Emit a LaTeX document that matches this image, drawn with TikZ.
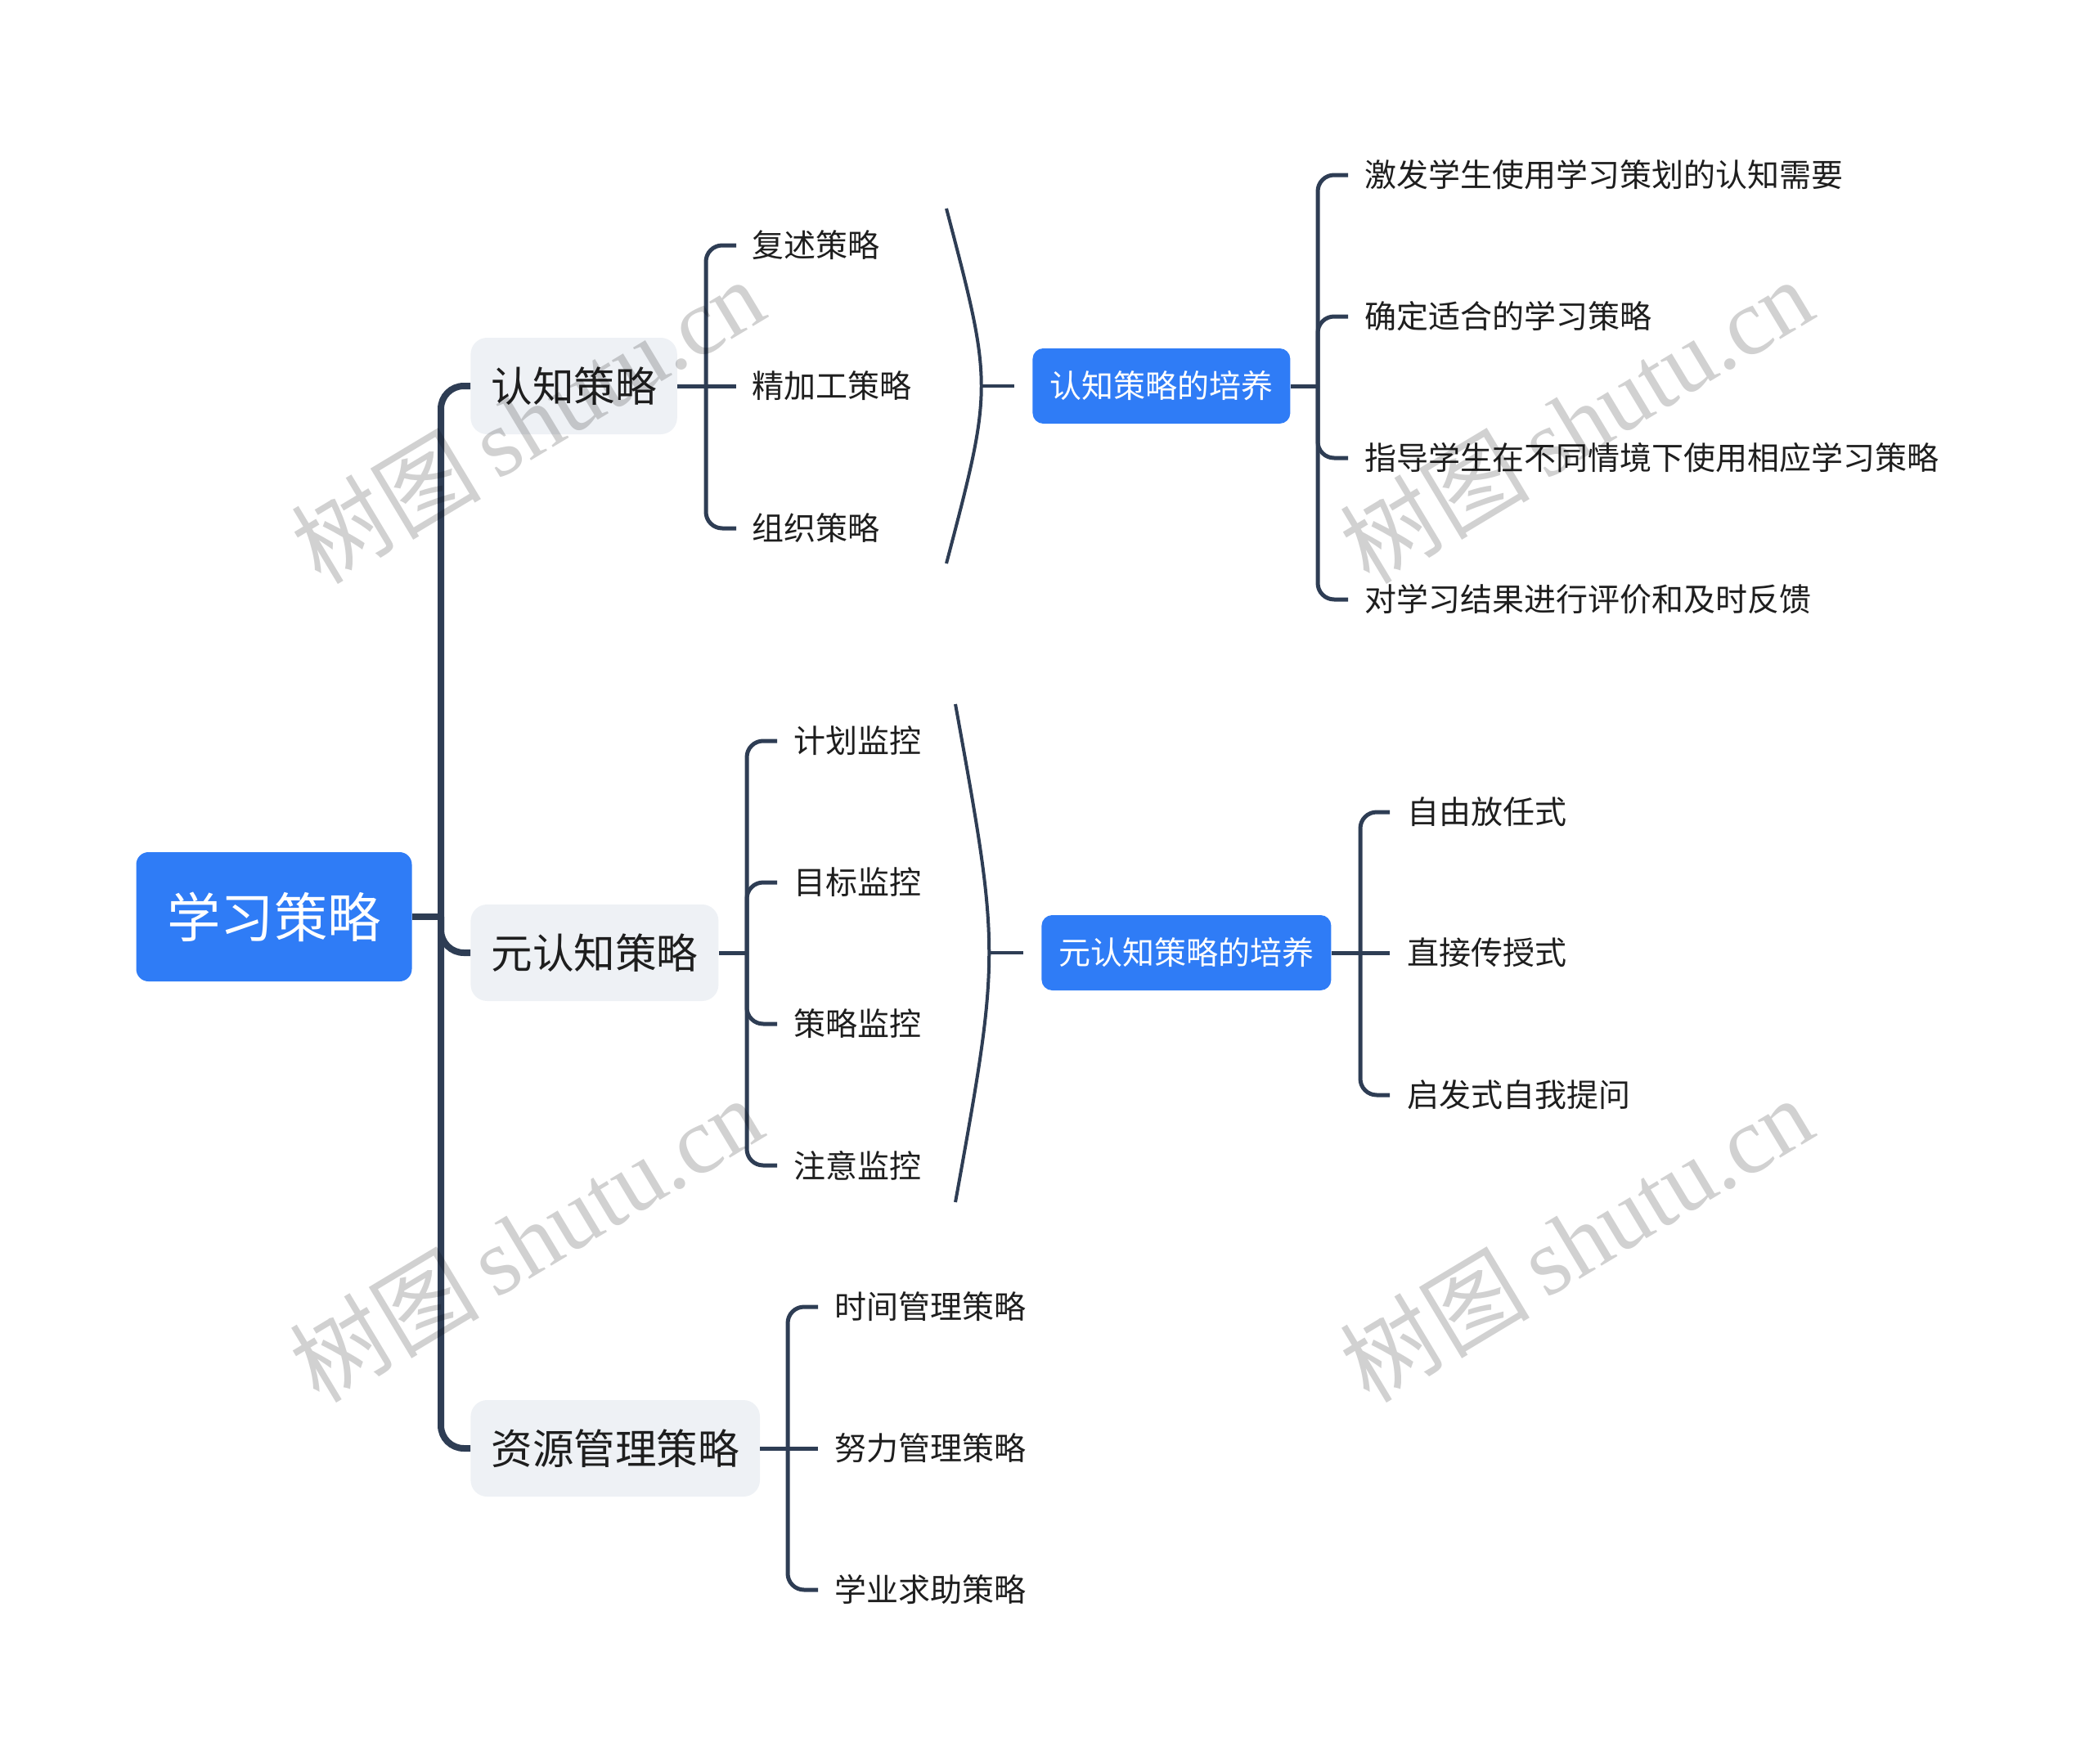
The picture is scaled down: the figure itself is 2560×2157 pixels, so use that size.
\documentclass[tikz,border=0pt]{standalone}
\usepackage{fontspec}
\setmainfont{Noto Sans CJK SC}
\newfontfamily\wmlat{Liberation Serif}
\IfFontExistsTF{FandolSong-Regular.otf}
  {\newfontfamily\wmcjk{FandolSong-Regular.otf}}
  {\newfontfamily\wmcjk{Noto Sans CJK SC}}
\definecolor{lnc}{HTML}{2E3D54}
\definecolor{blu}{HTML}{2F7CF6}
\definecolor{gbx}{HTML}{EEF1F5}
\definecolor{txt}{HTML}{1E1E1E}
\begin{document}
\begin{tikzpicture}[x=0.5pt,y=-0.5pt,
  rootbox/.style={fill=blu, rounded corners=7.5pt, text=white, minimum width=168.5pt, minimum height=79pt, inner sep=0pt, font=\fontsize{32.7pt}{36pt}\selectfont},
  lonebox/.style={fill=gbx, rounded corners=10pt, text=txt, anchor=west, minimum height=59pt, inner xsep=12.5pt, inner ysep=0pt, font=\fontsize{25.3pt}{30pt}\selectfont},
  ltwobox/.style={fill=blu, rounded corners=6.5pt, text=white, anchor=west, minimum height=46pt, inner xsep=10.5pt, inner ysep=0pt, font=\fontsize{19.5pt}{23pt}\selectfont},
  leaf/.style={anchor=west, inner sep=0pt, text=txt, font=\fontsize{19.5pt}{23pt}\selectfont},
  trunk/.style={draw=lnc, line width=4pt, rounded corners=14pt},
  brk/.style={draw=lnc, line width=2.5pt, rounded corners=10pt},
  arcln/.style={draw=lnc, line width=2pt},
  wm/.style={rotate=31, text=black, opacity=0.18, inner sep=0pt, font=\fontsize{58pt}{62pt}\selectfont}
]
\useasboundingbox (0,0) rectangle (2560,2157);

% nodes
\node[rootbox] (root) at (335,1121) {学习策略};
\node[lonebox] (b1) at (575,472) {认知策略};
\node[lonebox] (b2) at (575,1165) {元认知策略};
\node[lonebox] (b3) at (575,1771) {资源管理策略};

\node[leaf] (c11) at (919,300) {复述策略};
\node[leaf] (c12) at (919,472) {精加工策略};
\node[leaf] (c13) at (919,646) {组织策略};

\node[leaf] (c21) at (970,906) {计划监控};
\node[leaf] (c22) at (970,1079) {目标监控};
\node[leaf] (c23) at (970,1252) {策略监控};
\node[leaf] (c24) at (970,1425) {注意监控};

\node[leaf] (c31) at (1020,1598) {时间管理策略};
\node[leaf] (c32) at (1020,1771) {努力管理策略};
\node[leaf] (c33) at (1020,1944) {学业求助策略};

\node[ltwobox] (p1) at (1262,472) {认知策略的培养};
\node[ltwobox] (p2) at (1273,1165) {元认知策略的培养};

\node[leaf] (d11) at (1668,214) {激发学生使用学习策划的认知需要};
\node[leaf] (d12) at (1668,387) {确定适合的学习策略};
\node[leaf] (d13) at (1668,560) {指导学生在不同情境下使用相应学习策略};
\node[leaf] (d14) at (1668,733) {对学习结果进行评价和及时反馈};

\node[leaf] (d21) at (1720,993) {自由放任式};
\node[leaf] (d22) at (1720,1165) {直接传授式};
\node[leaf] (d23) at (1720,1339) {启发式自我提问};

% root trunk
\coordinate (tj) at (539,1121);
\draw[trunk] (root.east) -- (tj);
\draw[trunk] (tj) |- (b1.west);
\draw[trunk] (tj) |- (b2.west);
\draw[trunk] (tj) |- (b3.west);

% bracket of b1
\coordinate (j1) at (863,472);
\draw[brk] (b1.east) -- ([xshift=-9.5pt]c12.west);
\draw[brk] (j1) |- ([xshift=-9.5pt]c11.west);
\draw[brk] (j1) |- ([xshift=-9.5pt]c13.west);

% bracket of b2
\coordinate (j2) at (913,1165);
\draw[brk] (b2.east) -- (j2);
\draw[brk] (j2) |- ([xshift=-10pt]c21.west);
\draw[brk] (j2) |- ([xshift=-10pt]c22.west);
\draw[brk] (j2) |- ([xshift=-10pt]c23.west);
\draw[brk] (j2) |- ([xshift=-10pt]c24.west);

% bracket of b3
\coordinate (j3) at (963,1771);
\draw[brk] (b3.east) -- ([xshift=-10pt]c32.west);
\draw[brk] (j3) |- ([xshift=-10pt]c31.west);
\draw[brk] (j3) |- ([xshift=-10pt]c33.west);

% summary arcs
\coordinate (a1t) at (1157,255);
\coordinate (a1b) at (1157,689);
\coordinate (a1m) at (1200,472);
\draw[arcln] (a1t) .. controls (1214,472) .. (a1b);
\draw[arcln] (a1m) -- ([xshift=-11pt]p1.west);

\coordinate (a2t) at (1168,861);
\coordinate (a2b) at (1168,1470);
\coordinate (a2m) at (1209,1165);
\draw[arcln] (a2t) .. controls (1223,1165) .. (a2b);
\draw[arcln] (a2m) -- ([xshift=-11pt]p2.west);

% right brackets
\coordinate (r1) at (1611,472);
\draw[brk] (p1.east) -- (r1);
\draw[brk] (r1) |- ([xshift=-10pt]d11.west);
\draw[brk] (r1) |- ([xshift=-10pt]d12.west);
\draw[brk] (r1) |- ([xshift=-10pt]d13.west);
\draw[brk] (r1) |- ([xshift=-10pt]d14.west);

\coordinate (r2) at (1663,1165);
\draw[brk] (p2.east) -- ([xshift=-10.5pt]d22.west);
\draw[brk] (r2) |- ([xshift=-10.5pt]d21.west);
\draw[brk] (r2) |- ([xshift=-10.5pt]d23.west);

% watermarks
\node[wm] (w1) at (645,514) {\wmcjk 树图\,\wmlat shutu.cn};
\node[wm] (w2) at (1927,514) {\wmcjk 树图\,\wmlat shutu.cn};
\node[wm] (w3) at (643,1515) {\wmcjk 树图\,\wmlat shutu.cn};
\node[wm] (w4) at (1927,1515) {\wmcjk 树图\,\wmlat shutu.cn};
\end{tikzpicture}
\end{document}
